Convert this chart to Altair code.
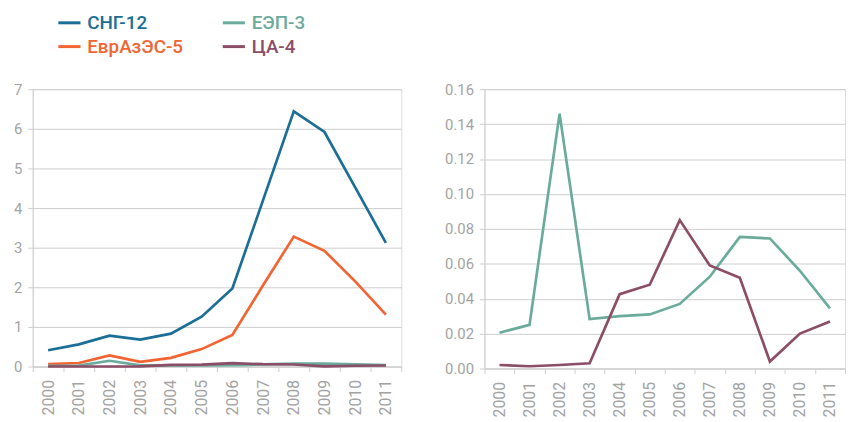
import altair as alt
import pandas as pd

years = ["2000", "2001", "2002", "2003", "2004", "2005",
         "2006", "2007", "2008", "2009", "2010", "2011"]
series_names = ["СНГ-12", "ЕврАзЭС-5", "ЕЭП-3", "ЦА-4"]
series_colors = ["#1b6e95", "#f26431", "#6aab9b", "#8c4e66"]

cis12 = [0.41, 0.56, 0.78, 0.68, 0.83, 1.26, 1.97, 4.20, 6.44, 5.92, 4.52, 3.12]
eurasec5 = [0.06, 0.09, 0.28, 0.12, 0.22, 0.44, 0.80, 2.05, 3.28, 2.92, 2.15, 1.31]
ces3 = [0.0205, 0.025, 0.146, 0.0283, 0.030, 0.031, 0.037, 0.0526, 0.0754, 0.0745, 0.056, 0.0345]
ca4 = [0.002, 0.0013, 0.002, 0.003, 0.0426, 0.048, 0.085, 0.059, 0.052, 0.004, 0.020, 0.027]

left_ticks = [0, 1, 2, 3, 4, 5, 6, 7]
right_ticks = [0.0, 0.02, 0.04, 0.06, 0.08, 0.10, 0.12, 0.14, 0.16]

rows = []
for name, vals in [("СНГ-12", cis12), ("ЕврАзЭС-5", eurasec5), ("ЕЭП-3", ces3), ("ЦА-4", ca4)]:
    for y, v in zip(years, vals):
        rows.append({"year": y, "value": v, "series": name})
df = pd.DataFrame(rows)
df_right = df[df["series"].isin(["ЕЭП-3", "ЦА-4"])]

GRID = "#cdcdcd"
TXT = "#a3a3a3"

color_expr = " : ".join(
    f"datum.value == '{n}' ? '{c}'" for n, c in zip(series_names, series_colors)
) + " : '#888'"

color = alt.Color(
    "series:N",
    scale=alt.Scale(domain=series_names, range=series_colors),
    legend=alt.Legend(
        title=None, orient="none", legendX=24, legendY=-80, columns=2,
        symbolType="stroke", symbolStrokeWidth=3, symbolSize=500,
        labelFontSize=19, labelFontWeight=500, labelFont="Roboto",
        labelColor=alt.ExprRef(expr=color_expr),
        columnPadding=33, rowPadding=1, labelOffset=5,
    ),
)


def xenc():
    return alt.X(
        "year:O", bandPosition=0.5,
        scale=alt.Scale(type="band", paddingInner=0, paddingOuter=0),
        axis=alt.Axis(title=None, labelAngle=270, tickBand="extent", grid=False,
                      domainColor=GRID, tickColor=GRID, tickSize=5, labelPadding=8,
                      labelFontSize=16, labelColor=TXT),
    )


def yaxis(vals, fmt):
    return alt.Axis(title=None, values=vals, format=fmt, grid=True, gridColor=GRID,
                    domainColor=GRID, tickColor=GRID, tickSize=5, labelPadding=6,
                    labelFontSize=15, labelColor=TXT)


left = alt.Chart(df).mark_line(strokeWidth=2.7).encode(
    x=xenc(),
    y=alt.Y("value:Q", scale=alt.Scale(domain=[0, 7]), axis=yaxis(left_ticks, "d")),
    color=color,
).properties(width=372, height=280)

right = alt.Chart(df_right).mark_line(strokeWidth=2.7).encode(
    x=xenc(),
    y=alt.Y("value:Q", scale=alt.Scale(domain=[0, 0.16]), axis=yaxis(right_ticks, ".2f")),
    color=color,
).properties(width=364, height=282)

chart = alt.hconcat(left, right, spacing=42).properties(
    padding={"left": 5, "top": 0, "right": 0, "bottom": 0}
).configure_view(stroke=None).configure(font="Roboto")

chart.save("out.html", embed_options={"renderer": "svg", "actions": False})
